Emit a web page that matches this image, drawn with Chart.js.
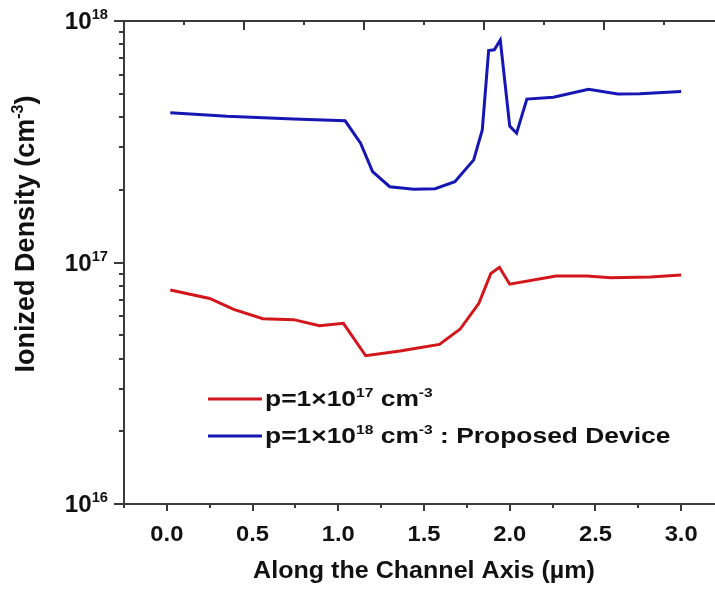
<!DOCTYPE html>
<html>
<head>
<meta charset="utf-8">
<script src="https://cdn.jsdelivr.net/npm/chart.js@4.4.1/dist/chart.umd.min.js"></script>
<style>
  html, body { margin: 0; padding: 0; background: #fff; }
  #wrap { width: 715px; height: 590px; overflow: hidden; }
  canvas { display: block; }
</style>
</head>
<body>
<div id="wrap"><canvas id="densityChart" width="740" height="590"></canvas></div>
<script>
// position along the channel (um) and ionized density (cm^-3)
const xLow = [0.02, 0.25, 0.39, 0.56, 0.74, 0.89, 1.03, 1.16, 1.36, 1.42, 1.59, 1.71, 1.82, 1.89, 1.94, 2.0, 2.27, 2.45, 2.59, 2.82, 3.0];
const densityLow = [7.7e16, 7.1e16, 6.4e16, 5.85e16, 5.8e16, 5.47e16, 5.6e16, 4.11e16, 4.3e16, 4.37e16, 4.58e16, 5.29e16, 6.78e16, 9.0e16, 9.55e16, 8.13e16, 8.8e16, 8.8e16, 8.65e16, 8.7e16, 8.87e16];

const xHigh = [0.02, 0.35, 0.74, 1.04, 1.13, 1.2, 1.3, 1.44, 1.565, 1.68, 1.79, 1.84, 1.877, 1.91, 1.945, 2.0, 2.04, 2.1, 2.255, 2.46, 2.63, 2.76, 3.0];
const densityHigh = [4.17e17, 4.03e17, 3.93e17, 3.86e17, 3.12e17, 2.38e17, 2.06e17, 2.01e17, 2.02e17, 2.16e17, 2.66e17, 3.54e17, 7.54e17, 7.6e17, 8.34e17, 3.67e17, 3.43e17, 4.75e17, 4.83e17, 5.21e17, 4.99e17, 5.0e17, 5.1e17];

const xMajor = [0, 0.5, 1.0, 1.5, 2.0, 2.5, 3.0];
const xMinor = [-0.25, 0.25, 0.75, 1.25, 1.75, 2.25, 2.75, 3.25];
const yMajor = [1e16, 1e17, 1e18];
const yMajorExp = ['16', '17', '18'];
const yMinor = [2e16, 3e16, 4e16, 5e16, 6e16, 7e16, 8e16, 9e16, 2e17, 3e17, 4e17, 5e17, 6e17, 7e17, 8e17, 9e17];
// top frame axis has its own tick spacing
const topTicks = [-1, 0, 1, 2, 3, 4, 5, 6, 7, 8, 9];

const legendItems = [
  { color: '#d3161c', parts: [['p=1\u00d710', 0], ['17', 1], [' cm', 0], ['-3', 1]] },
  { color: '#1616b4', parts: [['p=1\u00d710', 0], ['18', 1], [' cm', 0], ['-3', 1], [' : Proposed Device', 0]] }
];

const FONT = '"Liberation Sans", Arial, sans-serif';
const AXIS_COLOR = '#3a3a3a';

function toPoints(xs, ys) {
  return xs.map((x, i) => ({ x: x, y: ys[i] }));
}

function setFont(ctx, size) {
  ctx.font = 'bold ' + size + 'px ' + FONT;
}

// single line of text, widened by sx
function drawWide(ctx, text, x, y, size, sx, align) {
  setFont(ctx, size);
  const w = ctx.measureText(text).width * sx;
  const left = align === 'center' ? x - w / 2 : align === 'right' ? x - w : x;
  ctx.save();
  ctx.translate(left, y);
  ctx.scale(sx, 1);
  ctx.textAlign = 'left';
  ctx.textBaseline = 'alphabetic';
  ctx.fillText(text, 0, 0);
  ctx.restore();
}

// text with superscript pieces: parts = [[text, isSup], ...]
function drawRich(ctx, parts, x, y, size, sx, align, supRatio) {
  const sr = supRatio || 0.6;
  let w = 0;
  parts.forEach(([t, sup]) => {
    setFont(ctx, sup ? Math.round(size * sr) : size);
    w += ctx.measureText(t).width * sx;
  });
  let cx = align === 'right' ? x - w : align === 'center' ? x - w / 2 : x;
  parts.forEach(([t, sup]) => {
    const s = sup ? Math.round(size * sr) : size;
    drawWide(ctx, t, cx, sup ? y - size * 0.42 : y, s, sx, 'left');
    setFont(ctx, s);
    cx += ctx.measureText(t).width * sx;
  });
}

const framePlugin = {
  id: 'frame',
  afterDatasetsDraw(chart) {
    const ctx = chart.ctx;
    const a = chart.chartArea;
    const xs = chart.scales.x, ys = chart.scales.y, xt = chart.scales.xTop;
    ctx.save();
    ctx.strokeStyle = AXIS_COLOR;
    ctx.fillStyle = '#111';
    ctx.lineWidth = 2;
    ctx.lineCap = 'butt';

    // frame
    ctx.strokeRect(a.left, a.top, a.right - a.left, a.bottom - a.top);

    ctx.beginPath();
    // bottom ticks
    xMajor.forEach(v => {
      const px = Math.round(xs.getPixelForValue(v));
      ctx.moveTo(px, a.bottom); ctx.lineTo(px, a.bottom + 7);
    });
    xMinor.forEach(v => {
      const px = Math.round(xs.getPixelForValue(v));
      ctx.moveTo(px, a.bottom); ctx.lineTo(px, a.bottom + 4);
    });
    // left ticks
    yMajor.forEach(v => {
      const py = Math.round(ys.getPixelForValue(v));
      ctx.moveTo(a.left - 10, py); ctx.lineTo(a.left, py);
    });
    yMinor.forEach(v => {
      const py = Math.round(ys.getPixelForValue(v));
      ctx.moveTo(a.left - 5, py); ctx.lineTo(a.left, py);
    });
    // top ticks, pointing inward
    topTicks.forEach(v => {
      const px = Math.round(xt.getPixelForValue(v));
      const len = Math.abs(v % 2) === 1 ? 9 : 4;
      ctx.moveTo(px, a.top); ctx.lineTo(px, a.top + len);
    });
    ctx.stroke();

    // x tick labels
    xMajor.forEach(v => {
      drawWide(ctx, v.toFixed(1), xs.getPixelForValue(v), 541, 22, 1.08, 'center');
    });

    // y tick labels as powers of ten
    yMajor.forEach((v, i) => {
      const py = ys.getPixelForValue(v);
      drawRich(ctx, [['10', 0], [yMajorExp[i], 1]], 108, py + 8, 23, 1.05, 'right', 0.62);
    });

    // axis titles
    drawWide(ctx, 'Along the Channel Axis (\u00b5m)', (a.left + a.right) / 2, 578, 23, 1.09, 'center');

    ctx.save();
    ctx.translate(34, 234);
    ctx.rotate(-Math.PI / 2);
    drawRich(ctx, [['Ionized Density (cm', 0], ['-3', 1], [')', 0]], 0, 0, 27, 1.0, 'center');
    ctx.restore();

    // legend
    legendItems.forEach((item, i) => {
      const ly = 399 + i * 37;
      ctx.strokeStyle = item.color;
      ctx.lineWidth = 3;
      ctx.beginPath();
      ctx.moveTo(208, ly); ctx.lineTo(262, ly);
      ctx.stroke();
      ctx.fillStyle = '#111';
      drawRich(ctx, item.parts, 265, ly + 7, 22, 1.2, 'left');
    });

    ctx.restore();
  }
};

new Chart(document.getElementById('densityChart').getContext('2d'), {
  type: 'line',
  data: {
    datasets: [{
      label: 'p=1\u00d710^17 cm^-3',
      data: toPoints(xLow, densityLow),
      borderColor: '#d3161c',
      borderWidth: 3,
      pointRadius: 0,
      tension: 0,
      fill: false
    }, {
      label: 'p=1\u00d710^18 cm^-3 : Proposed Device',
      data: toPoints(xHigh, densityHigh),
      borderColor: '#1616b4',
      borderWidth: 3,
      pointRadius: 0,
      tension: 0,
      fill: false
    }]
  },
  options: {
    responsive: false,
    animation: false,
    layout: { padding: { left: 124, top: 21, right: 16, bottom: 86 } },
    plugins: { legend: { display: false }, tooltip: { enabled: false } },
    scales: {
      x: { type: 'linear', min: -0.25, max: 3.25, display: false },
      xTop: { type: 'linear', position: 'top', min: -1, max: 9, display: false },
      y: { type: 'logarithmic', min: 1e16, max: 1e18, display: false }
    }
  },
  plugins: [framePlugin]
});
</script>
</body>
</html>
